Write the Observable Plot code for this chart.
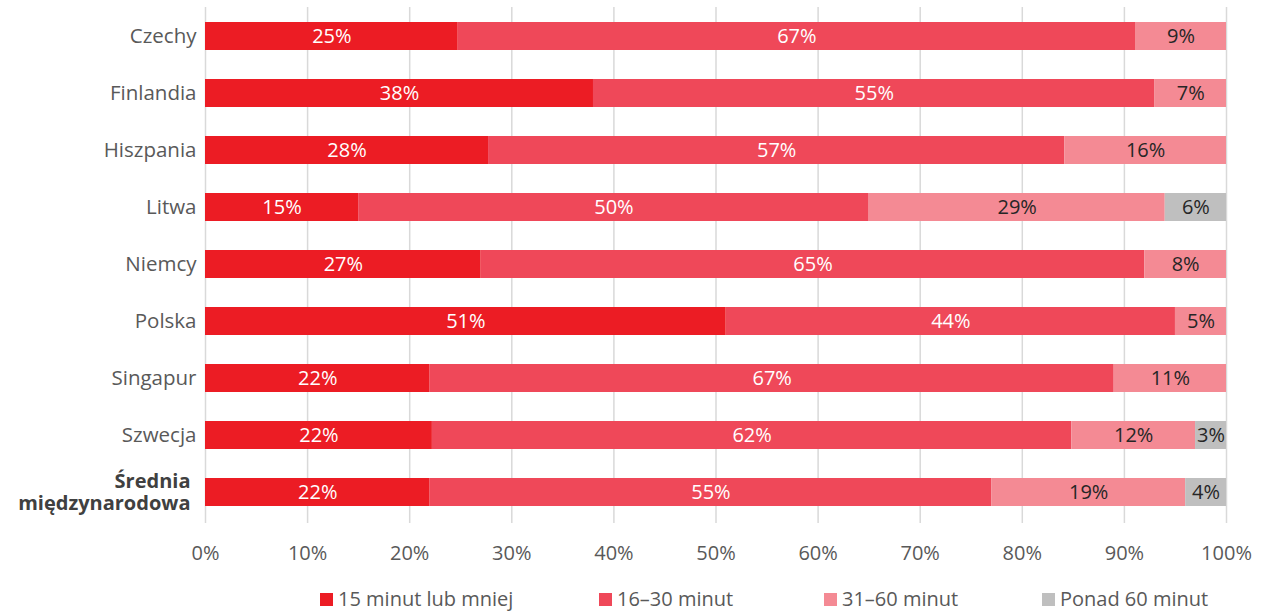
<!DOCTYPE html>
<html><head><meta charset="utf-8">
<script src="https://cdn.jsdelivr.net/npm/d3@7"></script>
<script src="https://cdn.jsdelivr.net/npm/@observablehq/plot@0.6"></script>
<style>
body{margin:0;background:#fff;font-family:"Open Sans",sans-serif;}
#chart svg{display:block;}
#legend{position:relative;height:30px;margin-top:8px;}
.item{position:absolute;top:0;display:flex;align-items:center;font-size:20px;color:#595959;line-height:26px;white-space:nowrap;}
.sw{width:13px;height:13px;margin-right:5px;display:inline-block;}
</style></head><body><div id="chart"></div><div id="legend"></div>
<script>
const countries = ["Czechy","Finlandia","Hiszpania","Litwa","Niemcy","Polska","Singapur","Szwecja","Średnia międzynarodowa"];
const series = ["15 minut lub mniej","16–30 minut","31–60 minut","Ponad 60 minut"];
const colors = ["#ec1c24","#ef4859","#f48a94","#bfbfbf"];
const v15 = [25,38,28,15,27,51,22,22,22];
const v16_30 = [67,55,57,50,65,44,67,62,55];
const v31_60 = [9,7,16,29,8,5,11,12,19];
const v60plus = [0,0,0,6,0,0,0,3,4];
const xTicks = [0,10,20,30,40,50,60,70,80,90,100];

const seriesValues = [v15, v16_30, v31_60, v60plus];
const rows = [];
countries.forEach((c,i)=>{
  seriesValues.forEach((arr,si)=>{
    if(arr[i]>0) rows.push({country:c, series:series[si], si, value:arr[i]});
  });
});

const chart = Plot.plot({
  width:1269, height:578, marginLeft:205, marginRight:43, marginTop:7, marginBottom:55,
  style:{fontFamily:"Open Sans", fontSize:"20px", background:"#fff"},
  x:{domain:[0,1]},
  y:{domain:countries, range:[6,522], paddingInner:0.513, paddingOuter:0.25},
  color:{domain:series, range:colors},
  marks:[
    Plot.ruleX(xTicks, {x: d=>d/100, stroke:"#d9d9d9", strokeWidth:1.5}),
    Plot.barX(rows, Plot.stackX({x:"value", y:"country", fill:"series", offset:"normalize"})),
    Plot.text(rows, Plot.stackX({x:"value", y:"country", offset:"normalize",
      text: d=> d.si<2 ? d.value+"%" : "", fill:"white", fontSize:20})),
    Plot.text(rows, Plot.stackX({x:"value", y:"country", offset:"normalize",
      text: d=> d.si>=2 ? d.value+"%" : "", fill:"#262626", fontSize:20})),
    Plot.axisX({ticks: xTicks.map(d=>d/100), tickFormat: d=>Math.round(d*100)+"%", tickSize:0, tickPadding:22, fill:"#595959", fontSize:20, label:null}),
    Plot.axisY({ticks: countries.slice(0,-1), tickSize:0, tickPadding:9, fill:"#595959", fontSize:20.5, label:null}),
    Plot.axisY({ticks: countries.slice(-1), tickFormat: ()=>"Średnia\nmiędzynarodowa", tickSize:0, tickPadding:15, dy:-1, fill:"#404040", fontWeight:"bold", fontSize:20, lineHeight:1.1, label:null})
  ]
});
document.getElementById("chart").appendChild(chart);

const lefts = [320, 599, 824, 1042];
const legend = document.getElementById("legend");
series.forEach((s,i)=>{
  const it = document.createElement("div");
  it.className="item"; it.style.left = lefts[i]+"px";
  const sw = document.createElement("span"); sw.className="sw"; sw.style.background = colors[i];
  it.appendChild(sw);
  it.appendChild(document.createTextNode(s));
  legend.appendChild(it);
});
</script>
</body></html>
